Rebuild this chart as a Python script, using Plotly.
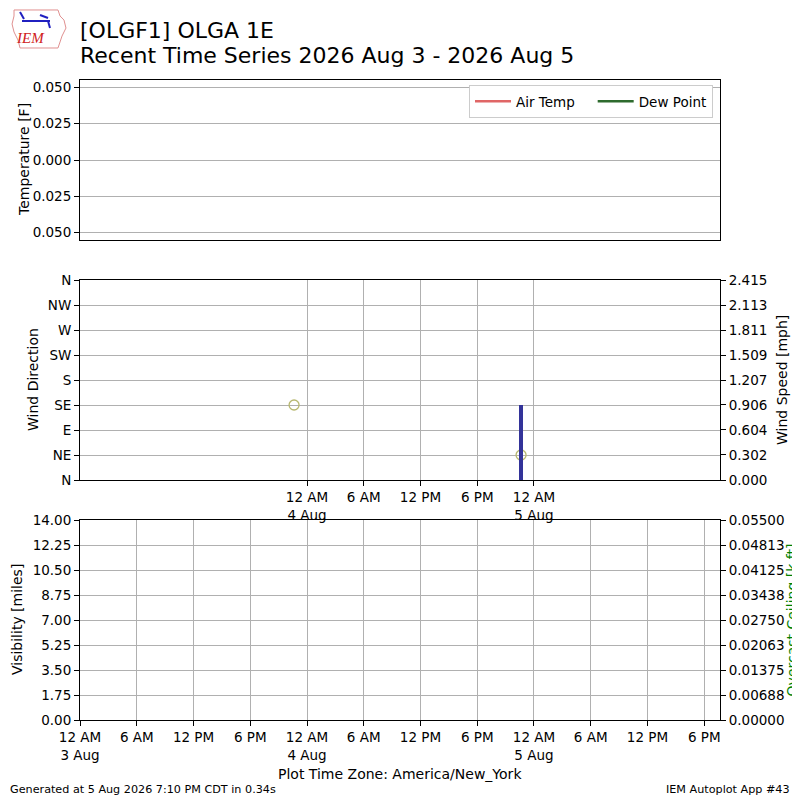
import plotly.graph_objects as go

# ---- data ----
obs_time = ["2026-08-03 22:38", "2026-08-04 22:38"]
wind_dir = [135, 45]
wind_time = ["2026-08-04 22:38"]
wind_speed = [0.9]

x_start = "2026-08-03 00:00"
x_end = "2026-08-05 19:40"

tick_times = ["2026-08-03 00:00", "2026-08-03 06:00", "2026-08-03 12:00", "2026-08-03 18:00",
              "2026-08-04 00:00", "2026-08-04 06:00", "2026-08-04 12:00", "2026-08-04 18:00",
              "2026-08-05 00:00", "2026-08-05 06:00", "2026-08-05 12:00", "2026-08-05 18:00"]
tick_text = ["12 AM<br>3 Aug", "6 AM", "12 PM", "6 PM",
             "12 AM<br>4 Aug", "6 AM", "12 PM", "6 PM",
             "12 AM<br>5 Aug", "6 AM", "12 PM", "6 PM"]
mid_ticks = tick_times[4:9]
mid_text = tick_text[4:9]

temp_ticks = [-0.05, -0.025, 0.0, 0.025, 0.05]
temp_text = ["0.050", "0.025", "0.000", "0.025", "0.050"]

dir_ticks = [0, 45, 90, 135, 180, 225, 270, 315, 360]
dir_text = ["N", "NE", "E", "SE", "S", "SW", "W", "NW", "N"]

speed_ticks = [0.0, 0.302, 0.604, 0.906, 1.207, 1.509, 1.811, 2.113, 2.415]
speed_text = ["0.000", "0.302", "0.604", "0.906", "1.207", "1.509", "1.811", "2.113", "2.415"]

vis_ticks = [0, 1.75, 3.5, 5.25, 7, 8.75, 10.5, 12.25, 14]
vis_text = ["0.00", "1.75", "3.50", "5.25", "7.00", "8.75", "10.50", "12.25", "14.00"]

ceil_ticks = [0, 0.006875, 0.01375, 0.020625, 0.0275, 0.034375, 0.04125, 0.048125, 0.055]
ceil_text = ["0.00000", "0.00688", "0.01375", "0.02063", "0.02750",
             "0.03438", "0.04125", "0.04813", "0.05500"]

# the page body has an 8px margin, so the figure is 792 wide and placed at (8, 8)
OFF = 8
W, H = 800 - OFF, 800 - OFF
FONT = "DejaVu Sans"
GRID = "#b0b0b0"
TICKSIZE = 13.5


def px(x, y):
    return (x - OFF) / W, 1 - (y - OFF) / H


def xdom(a, b):
    return [px(a, 0)[0], px(b, 0)[0]]


def ydom(top, bottom):
    return [px(0, bottom)[1], px(0, top)[1]]


fig = go.Figure()

# top panel: temperature (no data)
fig.add_trace(go.Scatter(x=[None], y=[None], mode="lines", name="Air Temp&nbsp;&nbsp;&nbsp;",
                         line=dict(color="#e06666", width=2.5), xaxis="x", yaxis="y"))
fig.add_trace(go.Scatter(x=[None], y=[None], mode="lines", name="Dew Point",
                         line=dict(color="#2e6b2e", width=2.5), xaxis="x", yaxis="y"))

# middle panel: wind speed bars + direction circles
fig.add_trace(go.Bar(x=wind_time, y=wind_speed, width=1000 * 60 * 20,
                     marker=dict(color="#333399", line=dict(width=0)),
                     showlegend=False, xaxis="x2", yaxis="y4"))
fig.add_trace(go.Scatter(x=obs_time, y=wind_dir, mode="markers", showlegend=False,
                         marker=dict(symbol="circle-open", size=10, color="#b8b870",
                                     line=dict(width=1.3)),
                         xaxis="x2", yaxis="y2"))

# bottom panel: visibility / ceiling (no data)
fig.add_trace(go.Scatter(x=[None], y=[None], showlegend=False, xaxis="x3", yaxis="y3"))
fig.add_trace(go.Scatter(x=[None], y=[None], showlegend=False, xaxis="x3", yaxis="y5"))

tickfont = dict(family=FONT, size=TICKSIZE, color="black")
xcommon = dict(type="date", range=[x_start, x_end], domain=xdom(80, 720), automargin=False,
               showline=True, linecolor="black", linewidth=1, mirror=True,
               ticks="outside", ticklen=5, tickwidth=1, tickcolor="black",
               gridcolor=GRID, gridwidth=1, zeroline=False, tickfont=tickfont)
ycommon = dict(showline=True, linecolor="black", linewidth=1, mirror=True, automargin=False,
               ticks="outside", ticklen=5, tickwidth=1, tickcolor="black",
               gridcolor=GRID, gridwidth=1, zeroline=False, tickmode="array",
               tickfont=tickfont)
yright = dict(side="right", showgrid=False, zeroline=False, tickmode="array", automargin=False,
              ticks="outside", ticklen=5, tickwidth=1, tickcolor="black",
              showline=False, tickfont=tickfont)

fig.update_layout(
    width=W, height=H,
    margin=dict(l=0, r=0, t=0, b=0),
    paper_bgcolor="white", plot_bgcolor="white",
    font=dict(family=FONT, size=13, color="black"),
    bargap=0,
    xaxis=dict(xcommon, anchor="y", showticklabels=False, ticks="", showgrid=False),
    yaxis=dict(ycommon, domain=ydom(80, 240), anchor="x", range=[-0.055, 0.055],
               tickvals=temp_ticks, ticktext=temp_text),
    xaxis2=dict(xcommon, anchor="y2", tickmode="array", tickvals=mid_ticks, ticktext=mid_text),
    yaxis2=dict(ycommon, domain=ydom(280, 480), anchor="x2", range=[0, 360],
                tickvals=dir_ticks, ticktext=dir_text),
    yaxis4=dict(yright, overlaying="y2", anchor="x2", range=[0, 2.415],
                tickvals=speed_ticks, ticktext=speed_text),
    xaxis3=dict(xcommon, anchor="y3", tickmode="array", tickvals=tick_times, ticktext=tick_text),
    yaxis3=dict(ycommon, domain=ydom(520, 720), anchor="x3", range=[0, 14],
                tickvals=vis_ticks, ticktext=vis_text),
    yaxis5=dict(yright, overlaying="y3", anchor="x3", range=[0, 0.055],
                tickvals=ceil_ticks, ticktext=ceil_text,
                title=dict(text="Overcast Ceiling [k ft]", standoff=0,
                           font=dict(family=FONT, size=14, color="green"))),
    legend=dict(orientation="h", x=px(713, 0)[0], y=px(0, 85)[1], xanchor="right", yanchor="top",
                bgcolor="white", bordercolor="#cccccc", borderwidth=1,
                font=dict(family=FONT, size=13.5), itemwidth=36,
                tracegroupgap=0),
)

ann = []


def text(x, y, s, size=14, color="black", angle=0, xanchor="center", yanchor="middle", **kw):
    xp, yp = px(x, y)
    ann.append(dict(x=xp, y=yp, xref="paper", yref="paper", text=s, showarrow=False,
                    textangle=angle, xanchor=xanchor, yanchor=yanchor,
                    font=dict(family=kw.get("family", FONT), size=size, color=color)))


text(78, 30, "[OLGF1] OLGA 1E", size=22, xanchor="left")
text(78, 56, "Recent Time Series 2026 Aug 3 - 2026 Aug 5", size=22, xanchor="left")
text(24, 160, "Temperature [F]", angle=-90)
text(33, 380, "Wind Direction", angle=-90)
text(17, 620, "Visibility [miles]", angle=-90)
text(782, 380, "Wind Speed [mph]", angle=-90)
text(400, 774, "Plot Time Zone: America/New_York")
text(8, 789, "Generated at 5 Aug 2026 7:10 PM CDT in 0.34s", size=11.2, xanchor="left")
text(792, 789, "IEM Autoplot App #43", size=11.2, xanchor="right")
text(30, 38, "<i>IEM</i>", size=15, color="#d02020", family="Liberation Serif")

# rough IEM logo outline
pts = [(14, 10), (58, 10), (60, 16), (64, 20), (66, 28), (62, 36), (60, 42),
       (58, 48), (20, 48), (18, 40), (14, 32), (12, 24), (14, 16)]
path = "M " + " L ".join(f"{px(a, b)[0]:.4f},{px(a, b)[1]:.4f}" for a, b in pts) + " Z"
shapes = [dict(type="path", xref="paper", yref="paper", path=path,
               line=dict(color="#e09090", width=1))]
for (a, b, c, d) in [(22, 21, 50, 21), (20, 12, 24, 19), (40, 15, 48, 18), (48, 21, 50, 28)]:
    x0, y0 = px(a, b)
    x1, y1 = px(c, d)
    shapes.append(dict(type="line", xref="paper", yref="paper", x0=x0, y0=y0, x1=x1, y1=y1,
                       line=dict(color="#2020c0", width=2)))

fig.update_layout(annotations=ann, shapes=shapes)

fig.write_html("out.html")
